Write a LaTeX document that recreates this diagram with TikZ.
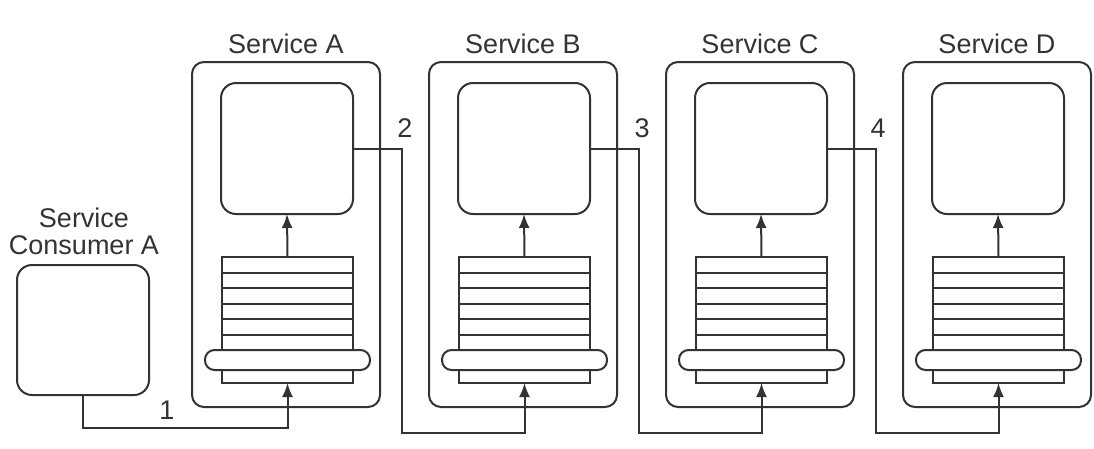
\documentclass[tikz,border=0pt]{standalone}
\usepackage{fontspec}
\setmainfont{Liberation Sans}
\usetikzlibrary{arrows.meta,calc}
\definecolor{ink}{HTML}{333333}
\begin{document}
\begin{tikzpicture}[x=1pt,y=-1pt,
  shp/.style={draw=ink,line width=2pt,fill=white,inner sep=0pt,outer sep=0pt,anchor=north west},
  outerbox/.style={shp,rounded corners=12pt,minimum width=188pt,minimum height=345pt},
  corebox/.style={shp,rounded corners=15pt,minimum width=132pt,minimum height=131pt},
  queuebox/.style={shp,minimum width=131pt,minimum height=126pt},
  pillbox/.style={shp,rounded corners=9.5pt,minimum width=165pt,minimum height=20pt},
  conn/.style={draw=ink,line width=2pt,-{Latex[length=14pt,width=11pt]}},
  wire/.style={draw=ink,line width=2pt},
  lbl/.style={text=ink,font=\fontsize{27}{28}\selectfont,inner sep=0pt}
]
\useasboundingbox (0,0) rectangle (1094,448);
\foreach \i/\n in {0/A,1/B,2/C,3/D}{
  \pgfmathsetmacro{\dx}{237*\i}
  \node[outerbox] (svc\n) at (192+\dx,62) {};
  \node[lbl] (title\n) at (286+\dx,44) {Service \n};
  \node[corebox] (core\n) at (221+\dx,83) {};
  \node[queuebox] (queue\n) at (222+\dx,257) {};
  \foreach \k in {1,...,5}{
    \draw[wire] ($(queue\n.north west)+(0,15.5*\k)$) -- ($(queue\n.north east)+(0,15.5*\k)$);
  }
  \node[pillbox] (pill\n) at (205+\dx,350) {};
  \draw[conn] (queue\n.north) -- (core\n.south);
}
\node[shp,rounded corners=15pt,minimum width=132pt,minimum height=130pt] (consumer) at (17,265) {};
\node[lbl,align=center,font=\fontsize{27}{27}\selectfont] (consumerlbl) at (84,231) {Service\\Consumer A};
\coordinate (c1) at (83,428);
\coordinate (b1) at (402,433);
\coordinate (b2) at (639,433);
\coordinate (b3) at (876,433);
\draw[conn] (consumer.south) -- (c1) -| (queueA.south);
\draw[conn] (coreA.east) -| (b1) -| (queueB.south);
\draw[conn] (coreB.east) -| (b2) -| (queueC.south);
\draw[conn] (coreC.east) -| (b3) -| (queueD.south);
\node[lbl] (n1) at (167,410) {1};
\node[lbl] (n2) at (405,128) {2};
\node[lbl] (n3) at (642,128) {3};
\node[lbl] (n4) at (878,128) {4};
\end{tikzpicture}
\end{document}
